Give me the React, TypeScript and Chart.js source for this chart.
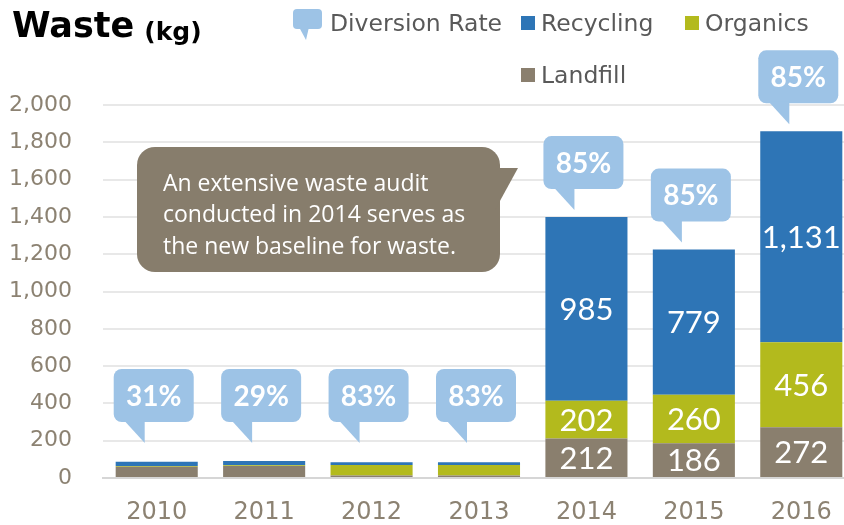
import React, { useEffect, useRef } from "react";
import { Chart, registerables } from "chart.js";

Chart.register(...registerables);

const years = ["2010", "2011", "2012", "2013", "2014", "2015", "2016"];
const landfill = [60, 65, 14, 14, 212, 186, 272];
const organics = [4, 3, 56, 56, 202, 260, 456];
const recycling = [23, 23, 14, 14, 985, 779, 1131];
const diversionRate = [31, 29, 83, 83, 85, 85, 85];

const yMin = 0;
const yMax = 2000;
const yStep = 200;

const titleMain = "Waste";
const titleUnit = "(kg)";
const legendDiversion = "Diversion Rate";
const seriesNames = ["Landfill", "Organics", "Recycling"];
const noteLines = [
  "An extensive waste audit",
  "conducted in 2014 serves as",
  "the new baseline for waste.",
];

const COLORS = {
  Landfill: "#8A7F6E",
  Organics: "#B3BA1D",
  Recycling: "#2E75B6",
  bubble: "#9DC3E6",
  note: "#877D6C",
  tick: "#8C8272",
  legend: "#595959",
};

const overlayPlugin = {
  id: "overlay",
  afterDatasetsDraw(chart: any) {
    const ctx = chart.ctx as CanvasRenderingContext2D;
    const ys = chart.scales.y;
    ctx.save();
    // data labels in big segments
    ctx.fillStyle = "#ffffff";
    ctx.font = "31px Lato";
    ctx.textAlign = "center";
    ctx.textBaseline = "middle";
    chart.data.datasets.forEach((ds: any, di: number) => {
      const meta = chart.getDatasetMeta(di);
      meta.data.forEach((bar: any, i: number) => {
        const v = ds.data[i] as number;
        if (v < 100) return;
        const p = bar.getProps(["x", "y", "base"], true);
        ctx.fillText(v.toLocaleString("en-US"), p.x, (p.y + p.base) / 2 + 1);
      });
    });
    // diversion callouts
    const topMeta = chart.getDatasetMeta(chart.data.datasets.length - 1);
    const floorY = ys.getPixelForValue(150);
    topMeta.data.forEach((bar: any, i: number) => {
      const p = bar.getProps(["x", "y"], true);
      const tipY = Math.min(p.y, floorY) - 7;
      const tipX = p.x - 12;
      const bw = 80;
      const bh = 53;
      const bottom = tipY - 21;
      const left = p.x - 3 - bw / 2;
      ctx.fillStyle = COLORS.bubble;
      ctx.beginPath();
      ctx.roundRect(left, bottom - bh, bw, bh, 8);
      ctx.fill();
      ctx.beginPath();
      ctx.moveTo(tipX - 21, bottom - 2);
      ctx.lineTo(tipX, tipY);
      ctx.lineTo(tipX, bottom - 2);
      ctx.closePath();
      ctx.fill();
      ctx.fillStyle = "#ffffff";
      ctx.font = "bold 28px Lato";
      ctx.textAlign = "center";
      ctx.textBaseline = "middle";
      ctx.fillText(diversionRate[i] + "%", left + bw / 2, bottom - bh / 2 + 1);
    });
    ctx.restore();
  },
  afterDraw(chart: any) {
    const ctx = chart.ctx as CanvasRenderingContext2D;
    ctx.save();
    // title
    ctx.fillStyle = "#000000";
    ctx.textAlign = "left";
    ctx.textBaseline = "alphabetic";
    ctx.font = "bold 35px 'DejaVu Sans'";
    ctx.fillText(titleMain, 12, 37);
    const w = ctx.measureText(titleMain).width;
    ctx.font = "bold 25px 'DejaVu Sans'";
    ctx.fillText(titleUnit, 12 + w + 10, 40);

    // legend
    ctx.font = "23.5px 'DejaVu Sans'";
    ctx.fillStyle = COLORS.bubble;
    ctx.beginPath();
    ctx.roundRect(293, 9, 29, 20, 4);
    ctx.fill();
    ctx.beginPath();
    ctx.moveTo(299, 27);
    ctx.lineTo(306, 40);
    ctx.lineTo(309, 27);
    ctx.closePath();
    ctx.fill();
    ctx.fillStyle = COLORS.legend;
    ctx.fillText(legendDiversion, 330, 31);

    const items = [
      { name: seriesNames[2], x: 521, y: 31 },
      { name: seriesNames[1], x: 685, y: 31 },
      { name: seriesNames[0], x: 521, y: 83 },
    ];
    items.forEach((it) => {
      ctx.fillStyle = (COLORS as any)[it.name];
      ctx.fillRect(it.x, it.y - 15, 14, 14);
      ctx.fillStyle = COLORS.legend;
      ctx.fillText(it.name, it.x + 20, it.y);
    });

    // note box
    ctx.fillStyle = COLORS.note;
    ctx.beginPath();
    ctx.roundRect(137, 147, 363, 125, 18);
    ctx.fill();
    ctx.beginPath();
    ctx.moveTo(495, 168);
    ctx.lineTo(518, 168);
    ctx.lineTo(495, 210);
    ctx.closePath();
    ctx.fill();
    ctx.fillStyle = "#ffffff";
    ctx.font = "23px 'Open Sans'";
    ctx.textBaseline = "middle";
    noteLines.forEach((line, i) => {
      ctx.fillText(line, 163, 184 + i * 31.5);
    });
    ctx.restore();
  },
};

export default function App() {
  const ref = useRef<HTMLCanvasElement | null>(null);
  useEffect(() => {
    if (!ref.current) return;
    const datasets = [
      { label: seriesNames[0], data: landfill, backgroundColor: COLORS.Landfill },
      { label: seriesNames[1], data: organics, backgroundColor: COLORS.Organics },
      { label: seriesNames[2], data: recycling, backgroundColor: COLORS.Recycling },
    ].map((d) => ({ ...d, barPercentage: 0.764, categoryPercentage: 1, borderWidth: 0 }));
    const chart = new Chart(ref.current, {
      type: "bar",
      data: { labels: years, datasets },
      plugins: [overlayPlugin],
      options: {
        responsive: false,
        animation: false,
        layout: { padding: { top: 105, right: 1, left: 0, bottom: 0 } },
        plugins: { legend: { display: false }, tooltip: { enabled: false }, title: { display: false } },
        scales: {
          x: {
            stacked: true,
            grid: { display: false, drawTicks: false },
            border: { display: true, color: "#d6d6d6", width: 2 },
            ticks: { color: COLORS.tick, font: { family: "DejaVu Sans", size: 24 }, padding: 20 },
            afterFit: (s: any) => {
              s.height = 47;
            },
          },
          y: {
            stacked: true,
            min: yMin,
            max: yMax,
            grid: { color: "#e8e8e8", lineWidth: 2, drawTicks: false },
            border: { display: false },
            ticks: {
              stepSize: yStep,
              color: COLORS.tick,
              font: { family: "DejaVu Sans", size: 22 },
              padding: 31,
            },
            afterFit: (s: any) => {
              s.width = 103;
            },
          },
        },
      },
    });
    return () => chart.destroy();
  }, []);
  return (
    <div style={{ position: "absolute", left: 0, top: 0, width: 844, height: 525, overflow: "hidden", background: "#fff" }}>
      <canvas ref={ref} width={856} height={525} style={{ display: "block", width: 856, height: 525 }} />
    </div>
  );
}
